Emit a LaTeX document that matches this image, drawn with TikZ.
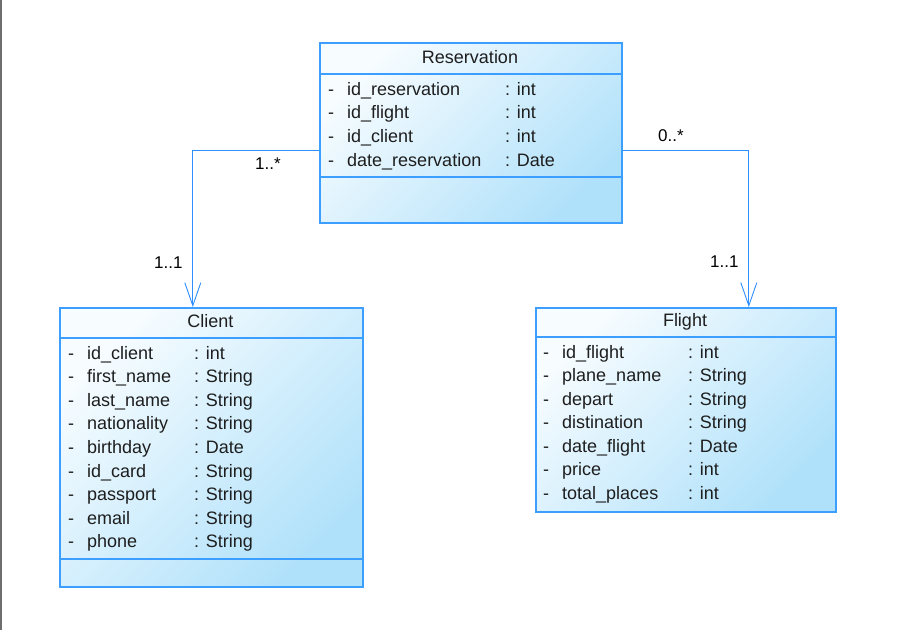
\documentclass[tikz,border=0pt]{standalone}
\usepackage{fontspec}
\setmainfont{Liberation Sans}
\usetikzlibrary{arrows.meta}
\definecolor{umlborder}{HTML}{3C9EFF}
\definecolor{umlfillA}{HTML}{F7FCFF}
\definecolor{umlfillB}{HTML}{B0E1FA}
\definecolor{connblue}{HTML}{2E8FFF}
\definecolor{txt}{HTML}{1E1E1E}
\definecolor{edgegray}{HTML}{6E6E6E}
\begin{document}
\begin{tikzpicture}[x=1pt,y=-1pt,
  umlbox/.style={draw=umlborder, line width=1.6pt, top color=umlfillA, bottom color=umlfillB, shading angle=45, inner sep=0pt, anchor=north west},
  sepline/.style={draw=umlborder, line width=1.3pt},
  attr/.style={anchor=base west, inner sep=0pt, font=\fontsize{18}{20}\selectfont, text=txt},
  ttl/.style={anchor=base, inner sep=0pt, font=\fontsize{18}{20}\selectfont, text=txt},
  mult/.style={anchor=base west, inner sep=0pt, font=\fontsize{17}{20}\selectfont, text=black},
  conn/.style={draw=connblue, line width=1.2pt, -{Straight Barb[length=23pt, width=16pt, line width=0.9pt]}}]
\useasboundingbox (0,0) rectangle (915,630);
\fill[white] (0,0) rectangle (915,630);
\fill[edgegray] (0,0) rectangle (2,630);

% Reservation
\node[umlbox, minimum width=302pt, minimum height=180pt] (res) at (319,42) {};
\draw[sepline] (319,74) -- (621,74);
\draw[sepline] (319,177) -- (621,177);
\node[ttl] (rest) at (470,63) {Reservation};
\foreach \n/\t [count=\i from 0] in {id\_reservation/int, id\_flight/int, id\_client/int, date\_reservation/Date} {
  \node[attr] (resd\i) at (328,{95+23.67*\i}) {-};
  \node[attr] (resn\i) at (347,{95+23.67*\i}) {\n};
  \node[attr] (resy\i) at (505,{95+23.67*\i}) {: \t};
}

% Client
\node[umlbox, minimum width=303pt, minimum height=279pt] (client) at (59,307) {};
\draw[sepline] (59,338) -- (362,338);
\draw[sepline] (59,559) -- (362,559);
\node[ttl] (clientt) at (210.5,327) {Client};
\foreach \n/\t [count=\i from 0] in {id\_client/int, first\_name/String, last\_name/String, nationality/String, birthday/Date, id\_card/String, passport/String, email/String, phone/String} {
  \node[attr] (cld\i) at (68,{359+23.62*\i}) {-};
  \node[attr] (cln\i) at (87,{359+23.62*\i}) {\n};
  \node[attr] (cly\i) at (194,{359+23.62*\i}) {: \t};
}

% Flight
\node[umlbox, minimum width=300pt, minimum height=204pt] (flight) at (535,307) {};
\draw[sepline] (535,337) -- (835,337);
\node[ttl] (flightt) at (685,326) {Flight};
\foreach \n/\t [count=\i from 0] in {id\_flight/int, plane\_name/String, depart/String, distination/String, date\_flight/Date, price/int, total\_places/int} {
  \node[attr] (fld\i) at (543,{358+23.5*\i}) {-};
  \node[attr] (fln\i) at (562,{358+23.5*\i}) {\n};
  \node[attr] (fly\i) at (688,{358+23.5*\i}) {: \t};
}

% Connectors
\draw[conn] ([yshift=-18pt]res.west) -| ([xshift=-18.5pt]client.north);
\draw[conn] ([yshift=-18pt]res.east) -| ([xshift=63pt]flight.north);

% Multiplicities
\node[mult] (m1) at (255,169) {1..*};
\node[mult] (m2) at (154,268) {1..1};
\node[mult] (m3) at (658,141) {0..*};
\node[mult] (m4) at (710,267) {1..1};
\end{tikzpicture}
\end{document}
